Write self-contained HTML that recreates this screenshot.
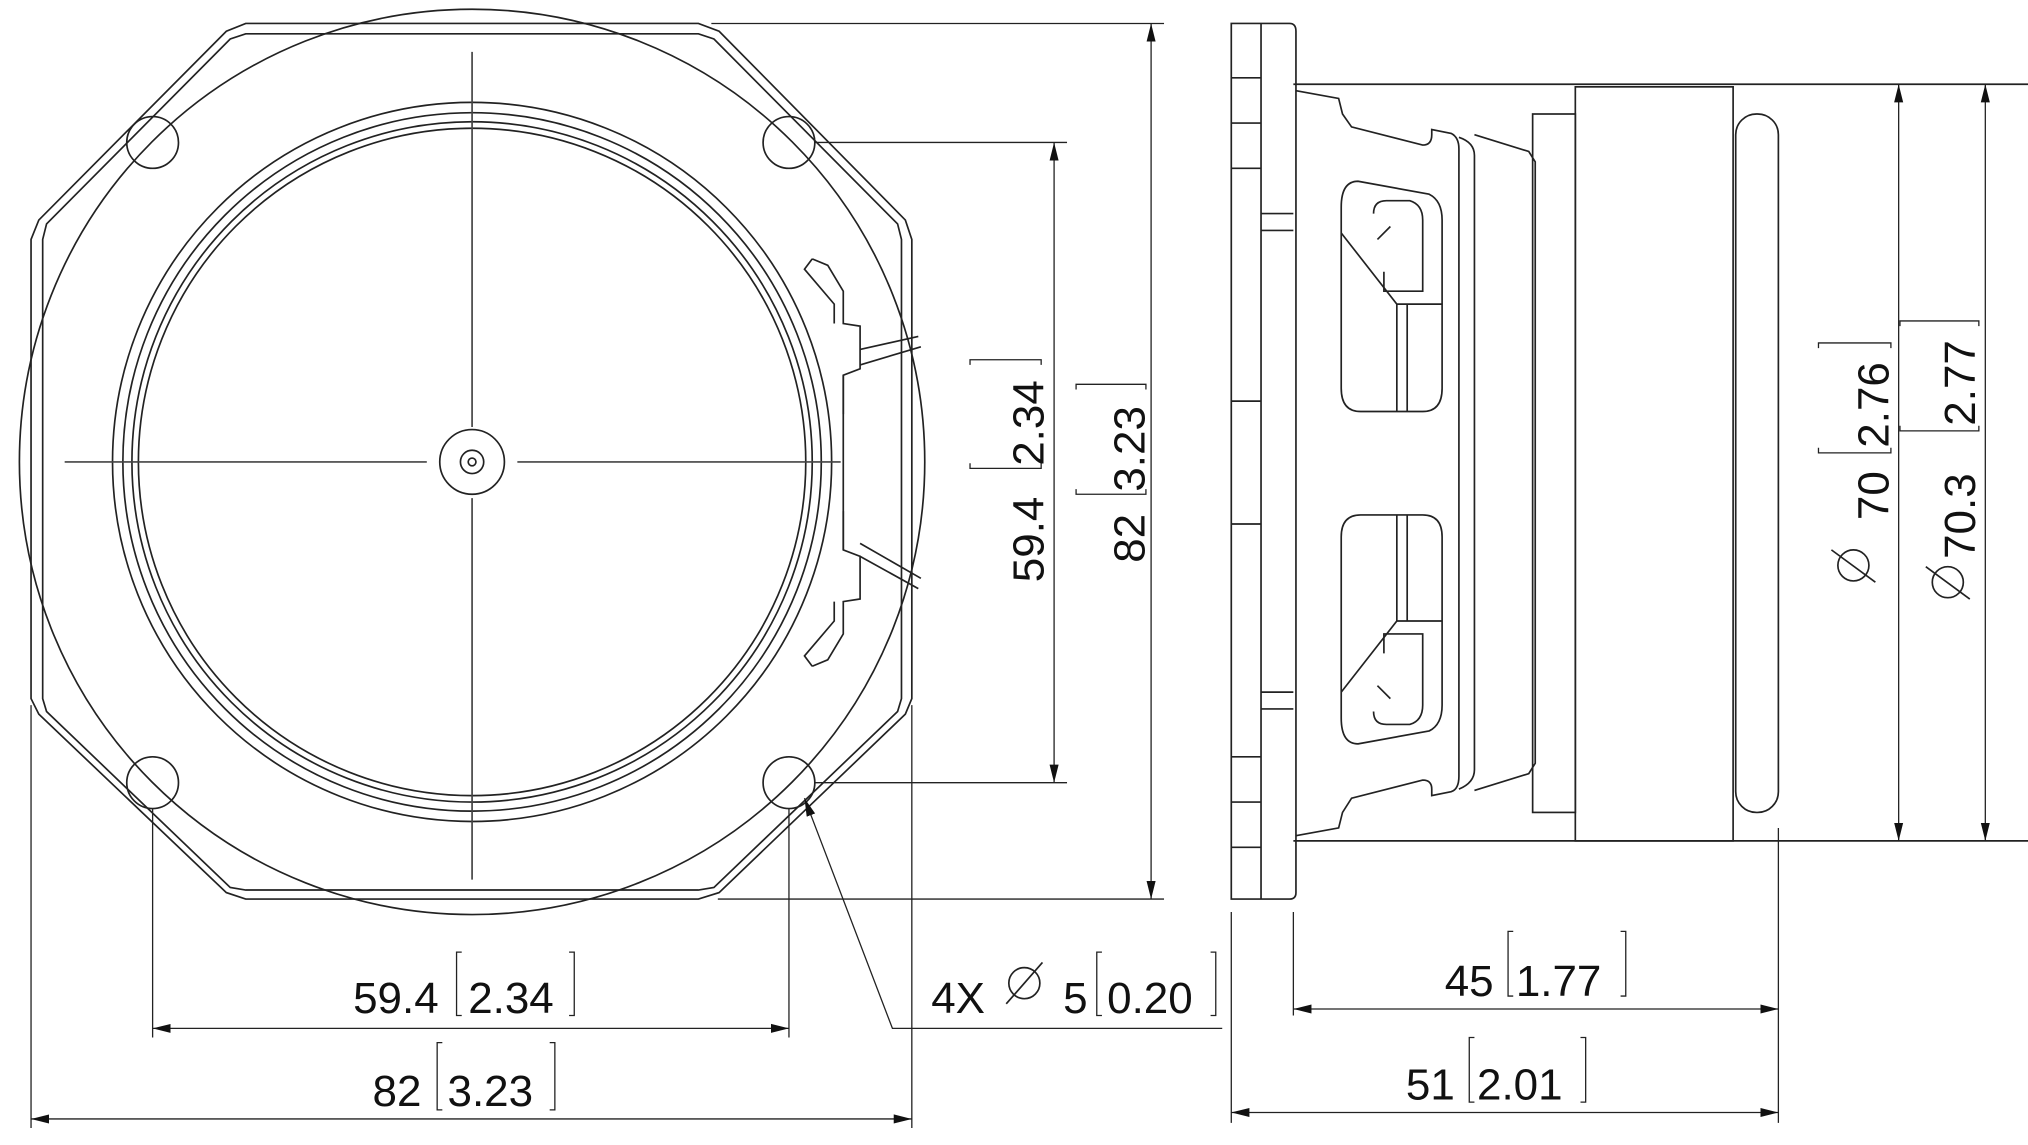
<!DOCTYPE html>
<html><head><meta charset="utf-8"><style>
html,body{margin:0;padding:0;background:#fff;}
svg{display:block;}
text{font-family:"Liberation Sans","DejaVu Sans",sans-serif;font-size:34px;fill:#111;}
</style></head><body>
<svg width="2028" height="1145" viewBox="0 0 1568 885" xmlns="http://www.w3.org/2000/svg">
<defs>
<marker id="a" viewBox="0 0 10 10" refX="10" refY="5" markerWidth="14" markerHeight="14" markerUnits="userSpaceOnUse" orient="auto-start-reverse"><path d="M0,2.5 L10,5 L0,7.5 z" fill="#111"/></marker>
</defs>
<g fill="none" stroke="#222" stroke-width="1.3">
<path d="M190,18 L540,18 L556,24 L700,170 L705,185 L705,540 L700,552 L556,690 L540,695 L190,695 L175,690 L30,552 L24,540 L24,185 L30,170 L175,24 Z"/>
<path d="M190,26 L540,26 L552,30 L694,173 L697,185 L697,540 L694,550 L552,686 L540,688 L190,688 L178,686 L36,550 L33,540 L33,185 L36,173 L178,30 Z"/>
<circle cx="365" cy="357" r="350"/>
<circle cx="365" cy="357" r="278"/>
<circle cx="365" cy="357" r="270"/>
<circle cx="365" cy="357" r="263"/>
<circle cx="365" cy="357" r="258"/>
<circle cx="118" cy="110" r="20"/><circle cx="610" cy="110" r="20"/>
<circle cx="118" cy="605" r="20"/><circle cx="610" cy="605" r="20"/>
<circle cx="365" cy="357" r="25"/><circle cx="365" cy="357" r="9"/><circle cx="365" cy="357" r="3"/>
<path d="M50,357 H330 M400,357 H650 M365,40 V330 M365,385 V680" stroke="#444"/>
<path d="M628,200 L640,205 L652,225 L652,250 L665,252 L665,285 L652,290 L652,320 M628,200 L622,208 L645,235 L645,250"/>
<path d="M665,270 L710,260 M665,282 L712,268"/>
<path d="M628,515 L640,510 L652,490 L652,465 L665,463 L665,430 L652,425 L652,395 M628,515 L622,507 L645,480 L645,465"/>
<path d="M665,430 L710,455 M665,420 L712,447"/>
<path d="M652,290 V425"/>
</g>
<g fill="none" stroke="#222" stroke-width="1">
<path d="M630,110 H825 M630,605 H825"/>
<path d="M815,110 V605" marker-start="url(#a)" marker-end="url(#a)"/>
<path d="M550,18 H900 M555,695 H900"/>
<path d="M890,18 V695" marker-start="url(#a)" marker-end="url(#a)"/>
<path d="M118,625 V802 M610,625 V802"/>
<path d="M118,795 H610" marker-start="url(#a)" marker-end="url(#a)"/>
<path d="M24,545 V872 M705,545 V872"/>
<path d="M24,865 H705" marker-start="url(#a)" marker-end="url(#a)"/>
<path d="M945,795 H690 L622,617" marker-end="url(#a)"/>
<path d="M750,282 V278 H805 V282 M750,358 V362 H805 V358"/>
<path d="M832,301 V297 H886 V301 M832,378 V382 H886 V378"/>
<path d="M357,736 H353 V785 H357 M440,736 H444 V785 H440 M342,806 H338 V858 H342 M425,806 H429 V858 H425 M852,736 H848 V785 H852 M936,736 H940 V785 H936"/>
<path d="M1170,720 H1166 V770 H1170 M1253,720 H1257 V770 H1253 M1140,802 H1136 V852 H1140 M1222,802 H1226 V852 H1222"/>
<path d="M1406,269 V265 H1462 V269 M1406,346 V350 H1462 V346"/>
<path d="M1469,252 V248 H1530 V252 M1469,329 V333 H1530 V329"/>
</g>
<text transform="translate(807,450) rotate(-90)">59.4</text>
<text transform="translate(807,360) rotate(-90)">2.34</text>
<text transform="translate(885,435) rotate(-90)">82</text>
<text transform="translate(885,380) rotate(-90)">3.23</text>
<text x="273" y="783">59.4</text><text x="362" y="783">2.34</text>
<text x="288" y="855">82</text><text x="346" y="855">3.23</text>
<text x="720" y="783">4X</text><text x="822" y="783">5</text><text x="856" y="783">0.20</text>
<circle cx="792" cy="760" r="12" fill="none" stroke="#222" stroke-width="1.3"/><path d="M778,776 L806,744" stroke="#222" stroke-width="1.3"/>
<g fill="none" stroke="#222" stroke-width="1.3">
<path d="M952,18 H997 Q1002,18 1002,24 V690 Q1002,695 997,695 H952 Z"/>
<path d="M975,18 V695 M952,60 H975 M952,95 H975 M952,130 H975 M975,165 H1000 M975,178 H1000 M952,310 H975 M952,405 H975 M975,535 H1000 M975,548 H1000 M952,585 H975 M952,620 H975 M952,655 H975"/>
<path d="M1000,65 H1568 M1000,650 H1568"/>
<path d="M1002,70 L1035,76 L1038,88 L1045,98 L1100,112 Q1107,112 1107,104 V100 L1122,103 Q1128,106 1128,115 V600 Q1128,610 1122,612 L1107,615 V610 Q1107,603 1100,603 L1045,617 L1038,628 L1035,640 L1002,646"/>
<path d="M1128,106 Q1140,110 1140,120 V595 Q1140,605 1128,610"/>
<path d="M1140,104 L1182,117 L1187,125 V590 L1182,598 L1140,611"/>
<path d="M1037,160 Q1037,140 1050,140 L1105,150 Q1115,155 1115,170 V300 Q1115,318 1100,318 H1052 Q1037,318 1037,300 Z"/>
<path d="M1037,415 Q1037,398 1052,398 H1100 Q1115,398 1115,415 V545 Q1115,560 1105,565 L1050,575 Q1037,575 1037,555 Z"/>
<path d="M1037,180 L1080,235 H1115 M1080,235 V318 M1088,235 V318 M1037,535 L1080,480 H1115 M1080,480 V398 M1088,480 V398"/>
<path d="M1062,165 Q1062,155 1072,155 H1090 Q1100,158 1100,170 V225 H1070 V210 M1075,175 L1065,185"/>
<path d="M1062,550 Q1062,560 1072,560 H1090 Q1100,557 1100,545 V490 H1070 V505 M1075,540 L1065,530"/>
<rect x="1185" y="88" width="33" height="540"/>
<rect x="1218" y="67" width="122" height="583"/>
<rect x="1342" y="88" width="33" height="540" rx="16"/>
</g>
<g fill="none" stroke="#222" stroke-width="1">
<path d="M1468,65 V650" marker-start="url(#a)" marker-end="url(#a)"/>
<path d="M1535,65 V650" marker-start="url(#a)" marker-end="url(#a)"/>
<path d="M1000,705 V785 M952,705 V868 M1375,640 V868"/>
<path d="M1000,780 H1375" marker-start="url(#a)" marker-end="url(#a)"/>
<path d="M952,860 H1375" marker-start="url(#a)" marker-end="url(#a)"/>
</g>
<text x="1117" y="770">45</text><text x="1172" y="770">1.77</text>
<text x="1087" y="850">51</text><text x="1142" y="850">2.01</text>
<text transform="translate(1460,402) rotate(-90)">70</text>
<text transform="translate(1460,346) rotate(-90)">2.76</text>
<text transform="translate(1527,432) rotate(-90)">70.3</text>
<text transform="translate(1527,329) rotate(-90)">2.77</text>
<circle cx="1433" cy="437" r="12" fill="none" stroke="#222" stroke-width="1.3"/><path d="M1416,425 L1450,450" stroke="#222" stroke-width="1.3"/>
<circle cx="1506" cy="450" r="12" fill="none" stroke="#222" stroke-width="1.3"/><path d="M1489,438 L1523,463" stroke="#222" stroke-width="1.3"/>
</svg>
</body></html>
